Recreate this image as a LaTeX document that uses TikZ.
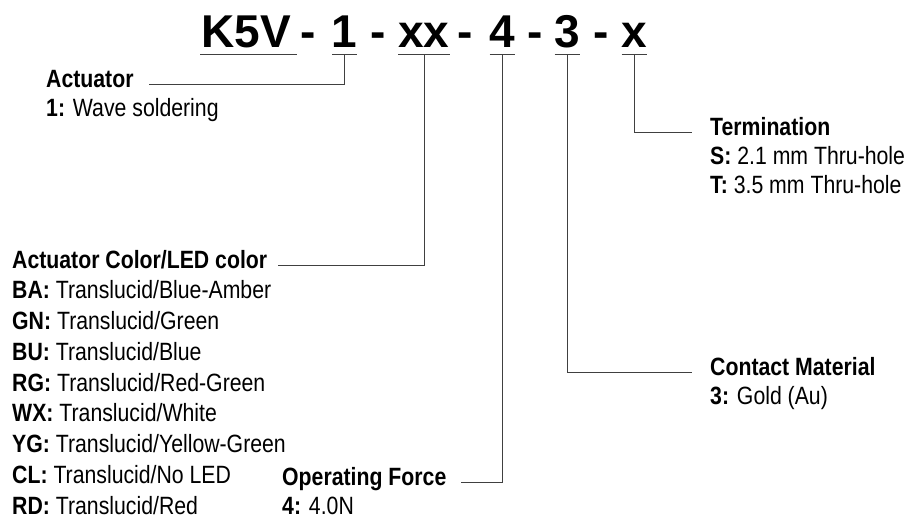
\documentclass[tikz,border=0pt]{standalone}
\usepackage{fontspec}
\setmainfont{Liberation Sans}[FakeStretch=0.85]
\newfontfamily\codefont{Liberation Sans}
\begin{document}
\begin{tikzpicture}[
        x=1pt, y=-1pt,
        code/.style={font=\codefont\fontsize{46}{46}\selectfont\bfseries, inner sep=0pt, anchor=base},
        lbl/.style={font=\fontsize{25}{28}\selectfont, inner sep=0pt, anchor=base west},
        head/.style={lbl, font=\fontsize{25}{28}\selectfont\bfseries},
        uline/.style={black!75, line width=0.9pt},
        conn/.style={black!75, line width=0.9pt}
    ]
        \useasboundingbox (0,0) rectangle (904,523);

        % Part number
        \node[code] (k5v) at (246,47) {K5V};
        \node[code] (d1) at (308,47) {-};
        \node[code] (act) at (344.5,47) {1};
        \node[code] (d2) at (378,47) {-};
        \node[code] (col) at (424,47) {xx};
        \node[code] (d3) at (465,47) {-};
        \node[code] (frc) at (502,47) {4};
        \node[code] (d4) at (535,47) {-};
        \node[code] (mat) at (567,47) {3};
        \node[code] (d5) at (601,47) {-};
        \node[code] (trm) at (634,47) {x};

        % Underlines
        \draw[uline] ([xshift=-46pt, yshift=-7pt]k5v.base) -- ([xshift=51pt, yshift=-7pt]k5v.base);
        \draw[uline] ([xshift=-12.5pt, yshift=-7pt]act.base) -- ([xshift=12.5pt, yshift=-7pt]act.base);
        \draw[uline] ([xshift=-26pt, yshift=-7pt]col.base) -- ([xshift=26pt, yshift=-7pt]col.base);
        \draw[uline] ([xshift=-12.5pt, yshift=-7pt]frc.base) -- ([xshift=12.5pt, yshift=-7pt]frc.base);
        \draw[uline] ([xshift=-12.5pt, yshift=-7pt]mat.base) -- ([xshift=12.5pt, yshift=-7pt]mat.base);
        \draw[uline] ([xshift=-12.5pt, yshift=-7pt]trm.base) -- ([xshift=12.5pt, yshift=-7pt]trm.base);

        % Actuator
        \node[head] (acth) at (46,87) {Actuator};
        \node[lbl] (act1) at (46,116) {\textbf{1:} Wave soldering};

        % Actuator color / LED color
        \node[head] (colh) at (12,268) {Actuator Color/LED color};
        \node[lbl] (colba) at (12,298.75) {\textbf{BA:} Translucid/Blue-Amber};
        \node[lbl] (colgn) at (12,329.5) {\textbf{GN:} Translucid/Green};
        \node[lbl] (colbu) at (12,360.25) {\textbf{BU:} Translucid/Blue};
        \node[lbl] (colrg) at (12,391) {\textbf{RG:} Translucid/Red-Green};
        \node[lbl] (colwx) at (12,421.75) {\textbf{WX:} Translucid/White};
        \node[lbl] (colyg) at (12,452.5) {\textbf{YG:} Translucid/Yellow-Green};
        \node[lbl] (colcl) at (12,483.25) {\textbf{CL:} Translucid/No LED};
        \node[lbl] (colrd) at (12,514) {\textbf{RD:} Translucid/Red};

        % Operating force
        \node[head] (frch) at (282,485) {Operating Force};
        \node[lbl] (frc4) at (282,514) {\textbf{4:} 4.0N};

        % Contact material
        \node[head] (math) at (710,375) {Contact Material};
        \node[lbl] (mat3) at (710,404) {\textbf{3:} Gold (Au)};

        % Termination
        \node[head] (trmh) at (710,135) {Termination};
        \node[lbl] (trms) at (710,164) {\textbf{S:} 2.1 mm Thru-hole};
        \node[lbl] (trmt) at (710,193) {\textbf{T:} 3.5 mm Thru-hole};

        % Leader lines
        \draw[conn] ([yshift=-7pt]act.base) |- ([xshift=15pt]acth.mid east);
        \draw[conn] ([yshift=-7pt]col.base) |- ([xshift=11pt]colh.mid east);
        \draw[conn] ([yshift=-7pt]frc.base) |- ([xshift=14pt]frch.mid east);
        \draw[conn] ([yshift=-7pt]mat.base) |- ([xshift=-18pt]math.mid west);
        \draw[conn] ([yshift=-7pt]trm.base) |- ([xshift=-18pt]trmh.mid west);
    \end{tikzpicture}
\end{document}
